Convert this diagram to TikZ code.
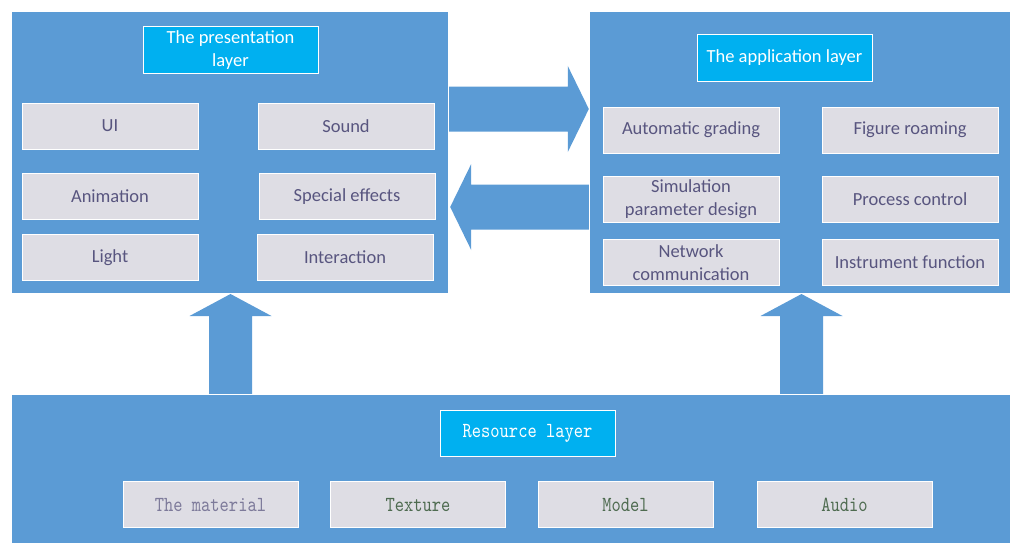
\documentclass[tikz,border=0pt]{standalone}
\usepackage{fontspec}
\setmainfont{Carlito}
\newfontfamily\resfont[Extension=.otf,FakeStretch=0.82]{lmmono10-regular}
\usetikzlibrary{calc}
\definecolor{panelblue}{HTML}{5B9BD5}
\definecolor{titleblue}{HTML}{00B0F0}
\definecolor{cellgray}{RGB}{222,221,228}
\definecolor{celltext}{HTML}{58557F}
\definecolor{lighttext}{HTML}{7D7A9A}
\definecolor{greentext}{HTML}{4E6B50}

\tikzset{
  panel/.style={fill=panelblue, draw=none, inner sep=0pt},
  layertitle/.style={fill=titleblue, draw=white, line width=1pt, text=white,
    minimum width=175pt, minimum height=46pt, align=center, inner sep=0pt,
    font=\fontsize{18.5}{23.5}\selectfont},
  cell/.style={fill=cellgray, draw=white, line width=1pt, text=celltext,
    minimum width=176pt, minimum height=46pt, align=center, inner sep=0pt,
    font=\fontsize{18.5}{23.5}\selectfont},
  rescell/.style={cell, minimum width=175pt, font=\resfont\fontsize{21.5}{24}\selectfont},
  blockarrow/.style={fill=panelblue, draw=none}
}

\begin{document}
\begin{tikzpicture}[x=1pt,y=-1pt]
      \useasboundingbox (0,0) rectangle (1014,543);
      % layers
      \node[panel, minimum width=436pt, minimum height=281pt] (pres) at (230,152.5) {};
      \node[panel, minimum width=420pt, minimum height=281pt] (app) at (800,152.5) {};
      \node[panel, minimum width=998pt, minimum height=148pt] (res) at (511,469) {};

      % presentation layer
      \node[layertitle] (prestitle) at (230.5,50) {The presentation\\layer};
      \node[cell] (ui) at (110,126) {UI};
      \node[cell] (sound) at (346,126) {Sound};
      \node[cell] (anim) at (110,196.5) {Animation};
      \node[cell] (effects) at (347,196.5) {Special effects};
      \node[cell] (light) at (110,257.5) {Light};
      \node[cell] (interact) at (345,257.5) {Interaction};

      % application layer
      \node[layertitle] (apptitle) at (784.5,58) {The application layer};
      \node[cell] (grading) at (691,130) {Automatic grading};
      \node[cell] (roaming) at (910,130) {Figure roaming};
      \node[cell] (simul) at (691,199) {Simulation\\parameter design};
      \node[cell] (process) at (910,199) {Process control};
      \node[cell] (network) at (691,262.5) {Network\\communication};
      \node[cell] (instr) at (910,262) {Instrument function};

      % resource layer
      \node[layertitle, font=\resfont\fontsize{21.5}{24}\selectfont] (restitle) at (527.5,433) {Resource layer};
      \node[rescell, text=lighttext] (material) at (210.5,504.5) {The material};
      \node[rescell, text=greentext] (texture) at (418,504.5) {Texture};
      \node[rescell, text=greentext] (model) at (625.5,504.5) {Model};
      \node[rescell, text=greentext] (audio) at (844.5,504.5) {Audio};

      % arrows between the layers
      \def\sw{22.5}
      \def\hw{43}
      \def\hl{21}
      \coordinate (toapp) at (app.west |- 0,109);
      \coordinate (topres) at (pres.east |- 0,207);
      \fill[blockarrow] ($(pres.east |- toapp)+(1,-\sw)$) -- ($(toapp)+(-\hl-1,-\sw)$)
        -- ($(toapp)+(-\hl-1,-\hw)$) -- ($(toapp)+(-1,0)$) -- ($(toapp)+(-\hl-1,\hw)$)
        -- ($(toapp)+(-\hl-1,\sw)$) -- ($(pres.east |- toapp)+(1,\sw)$) -- cycle;
      \fill[blockarrow] ($(app.west |- topres)+(-1,-\sw)$) -- ($(topres)+(\hl+2,-\sw)$)
        -- ($(topres)+(\hl+2,-\hw)$) -- ($(topres)+(2,0)$) -- ($(topres)+(\hl+2,\hw)$)
        -- ($(topres)+(\hl+2,\sw)$) -- ($(app.west |- topres)+(-1,\sw)$) -- cycle;

      \def\uw{21.5}
      \def\uh{41}
      \def\ul{22}
      \foreach \x/\name in {230.5/presup, 801.5/appup}{
        \coordinate (\name) at (\x,294);
        \fill[blockarrow] (\name) -- ++(\uh,\ul) -- ++(-\uh+\uw,0) |- ($(res.north)+(\x-511-\uw,-1)$)
          -- ($(\name)+(-\uw,\ul)$) -- ++(-\uh+\uw,0) -- cycle;
      }
\end{tikzpicture}
\end{document}
